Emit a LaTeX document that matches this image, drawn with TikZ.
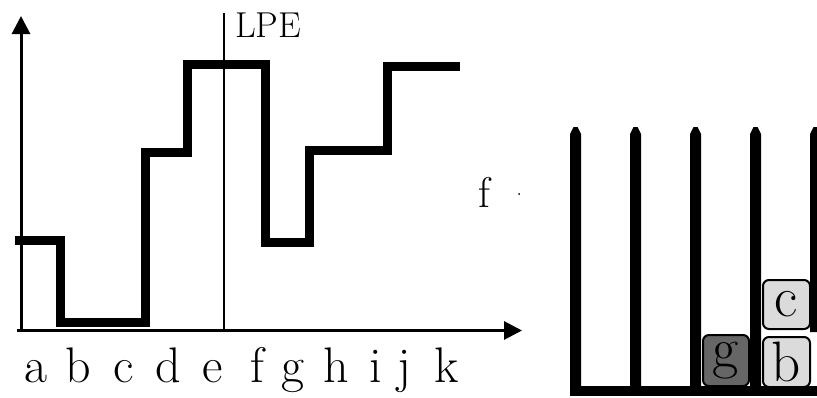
\documentclass[tikz,border=0pt]{standalone}
\usetikzlibrary{arrows.meta}
\begin{document}
\begin{tikzpicture}[x=1pt,y=-1pt,
  stepline/.style={line width=9pt, line join=miter, line cap=butt},
  axisline/.style={line width=3pt, -{Triangle[length=18pt,width=18pt]}},
  lbl/.style={font=\fontsize{50}{50}\selectfont, anchor=base, inner sep=0pt},
  rodshape/.style={fill=black},
  blk/.style={draw=black, line width=2pt, rounded corners=6pt, inner sep=0pt, font=\fontsize{57}{57}\selectfont},
  lightblk/.style={blk, fill=black!14},
  darkblk/.style={blk, fill=black!60},
]
\useasboundingbox (0,0) rectangle (817,397);

% axes
\coordinate (yb) at (21,332);
\coordinate (yt) at (21,16);
\coordinate (xl) at (17,330.5);
\coordinate (xr) at (522,330.5);
\draw[axisline] (yb) -- (yt);
\draw[axisline] (xl) -- (xr);

% LPE line
\coordinate (lpeb) at (224,330);
\coordinate (lpet) at (224,13);
\draw[line width=1.4pt] (lpeb) -- (lpet);
\node[anchor=base west, inner sep=0pt, font=\fontsize{36}{36}\selectfont] (lpe) at (235,37) {LPE};

% step function
\draw[stepline] (15,240.5) -- (60.5,240.5) -- (60.5,322) -- (145,322) -- (145,152)
  -- (187,152) -- (187,64) -- (265,64) -- (265,242) -- (309,242) -- (309,150)
  -- (387,150) -- (387,66) -- (460,66);

% x labels
\foreach \t/\x [count=\i] in {a/36,b/78,c/124,d/168,e/213,f/257,g/293,h/336,i/376,j/404,k/447}
  \node[lbl] (l\i) at (\x,382) {\t};

% f label and dot
\node[anchor=base, inner sep=0pt, font=\fontsize{43}{43}\selectfont] (flab) at (484,207) {f};
\fill (519,194) circle (1pt);

% rods
\foreach \x [count=\i] in {575.5,635.5,695.5,755.5} {
  \fill[rodshape] (\x-5.5,391) -- (\x-5.5,134) -- (\x-2,127) -- (\x+2,127) -- (\x+5.5,134) -- (\x+5.5,391) -- cycle;
}
\fill[rodshape] (810,332) -- (810,134) -- (813.5,127) -- (817.5,127) -- (821,134) -- (821,332) -- cycle;
% base
\fill[rodshape] (570,386) rectangle (817,396);

% blocks
\node[darkblk, minimum width=46pt, minimum height=51pt] (g) at (726,360.5) {g};
\node[lightblk, minimum width=47pt, minimum height=49pt] (c) at (786.5,304.5) {c};
\node[lightblk, minimum width=47pt, minimum height=50pt] (b) at (786.5,362) {b};
\end{tikzpicture}
\end{document}
